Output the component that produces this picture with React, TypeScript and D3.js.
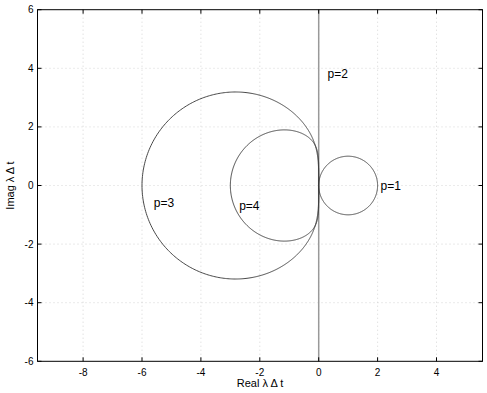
import React from "react";
import * as d3 from "d3";

// Adams–Moulton methods: rho coefficients (highest power first) and sigma coefficients
const orders = [1, 2, 3, 4];
const rhoCoeffs = [
  [1, -1],
  [1, -1],
  [1, -1, 0],
  [1, -1, 0, 0],
];
const sigmaCoeffs = [
  [1, 0],
  [1 / 2, 1 / 2],
  [5 / 12, 8 / 12, -1 / 12],
  [9 / 24, 19 / 24, -5 / 24, 1 / 24],
];
const labels = ["p=1", "p=2", "p=3", "p=4"];
const labelPos: [number, number][] = [
  [2.1, 0],
  [0.3, 3.8],
  [-5.6, -0.6],
  [-2.7, -0.7],
];
const xTicks = [-8, -6, -4, -2, 0, 2, 4];
const yTicks = [-6, -4, -2, 0, 2, 4, 6];

const W = 487, H = 393;
const left = 37.5, right = 482.5, top = 9.7, bottom = 361.3;
const x0px = 318.7, xs = 29.45;

type C = [number, number];
const mul = (a: C, b: C): C => [a[0] * b[0] - a[1] * b[1], a[0] * b[1] + a[1] * b[0]];
const div = (a: C, b: C): C => {
  const d = b[0] * b[0] + b[1] * b[1];
  return [(a[0] * b[0] + a[1] * b[1]) / d, (a[1] * b[0] - a[0] * b[1]) / d];
};
const poly = (c: number[], z: C): C => {
  let r: C = [0, 0];
  for (const k of c) {
    r = mul(r, z);
    r = [r[0] + k, r[1]];
  }
  return r;
};

export default function App() {
  const x = d3.scaleLinear().domain([(left - x0px) / xs, (right - x0px) / xs]).range([left, right]);
  const y = d3.scaleLinear().domain([-6, 6]).range([bottom, top]);
  const line = d3.line<C>().x((d) => x(d[0])).y((d) => y(d[1]));

  const curves = orders.map((p, i) => {
    if (p === 2) return null;
    const pts: C[] = [];
    const N = 1000;
    for (let k = 0; k <= N; k++) {
      const t = (2 * Math.PI * k) / N;
      const z: C = [Math.cos(t), Math.sin(t)];
      pts.push(div(poly(rhoCoeffs[i], z), poly(sigmaCoeffs[i], z)));
    }
    return pts;
  });

  const font = "Liberation Sans, Arial, Helvetica, sans-serif";
  return (
    <svg width={W} height={H} style={{ position: "absolute", left: 0, top: 0, background: "#fff" }}>
      <rect x={0} y={0} width={W} height={H} fill="#fff" />
      {xTicks.map((t) => (
        <line key={"gx" + t} x1={x(t)} x2={x(t)} y1={top} y2={bottom} stroke="#ccc" strokeWidth={0.8} strokeDasharray="1,3" />
      ))}
      {yTicks.filter((t) => t > -6 && t < 6).map((t) => (
        <line key={"gy" + t} x1={left} x2={right} y1={y(t)} y2={y(t)} stroke="#ccc" strokeWidth={0.8} strokeDasharray="1,3" />
      ))}
      {/* p=2: imaginary axis */}
      <line x1={x(0)} x2={x(0)} y1={top} y2={bottom} stroke="#999" strokeWidth={1.5} />
      {curves.map((c, i) =>
        c ? <path key={"c" + i} d={line(c) || ""} fill="none" stroke="#333" strokeWidth={0.9} /> : null
      )}
      {labels.map((l, i) => (
        <text key={l} x={x(labelPos[i][0])} y={y(labelPos[i][1])} dy="0.35em" fontFamily={font} fontSize={12} fill="#000">
          {l}
        </text>
      ))}
      <rect x={left} y={top} width={right - left} height={bottom - top} fill="none" stroke="#000" strokeWidth={1} />
      {xTicks.map((t) => (
        <g key={"tx" + t}>
          <line x1={x(t)} x2={x(t)} y1={bottom} y2={bottom - 4} stroke="#000" />
          <line x1={x(t)} x2={x(t)} y1={top} y2={top + 4} stroke="#000" />
          <text x={x(t)} y={bottom + 15} textAnchor="middle" fontFamily={font} fontSize={10} fill="#000">
            {String(t)}
          </text>
        </g>
      ))}
      {yTicks.map((t) => (
        <g key={"ty" + t}>
          <line x1={left} x2={left + 4} y1={y(t)} y2={y(t)} stroke="#000" />
          <line x1={right} x2={right - 4} y1={y(t)} y2={y(t)} stroke="#000" />
          <text x={left - 4} y={y(t)} dy="0.35em" textAnchor="end" fontFamily={font} fontSize={10} fill="#000">
            {String(t)}
          </text>
        </g>
      ))}
      <text x={(left + right) / 2} y={387} textAnchor="middle" fontFamily={font} fontSize={11} fill="#000">
        Real λ Δ t
      </text>
      <text transform={`translate(14,${(top + bottom) / 2}) rotate(-90)`} textAnchor="middle" fontFamily={font} fontSize={11} fill="#000">
        Imag λ Δ t
      </text>
    </svg>
  );
}
